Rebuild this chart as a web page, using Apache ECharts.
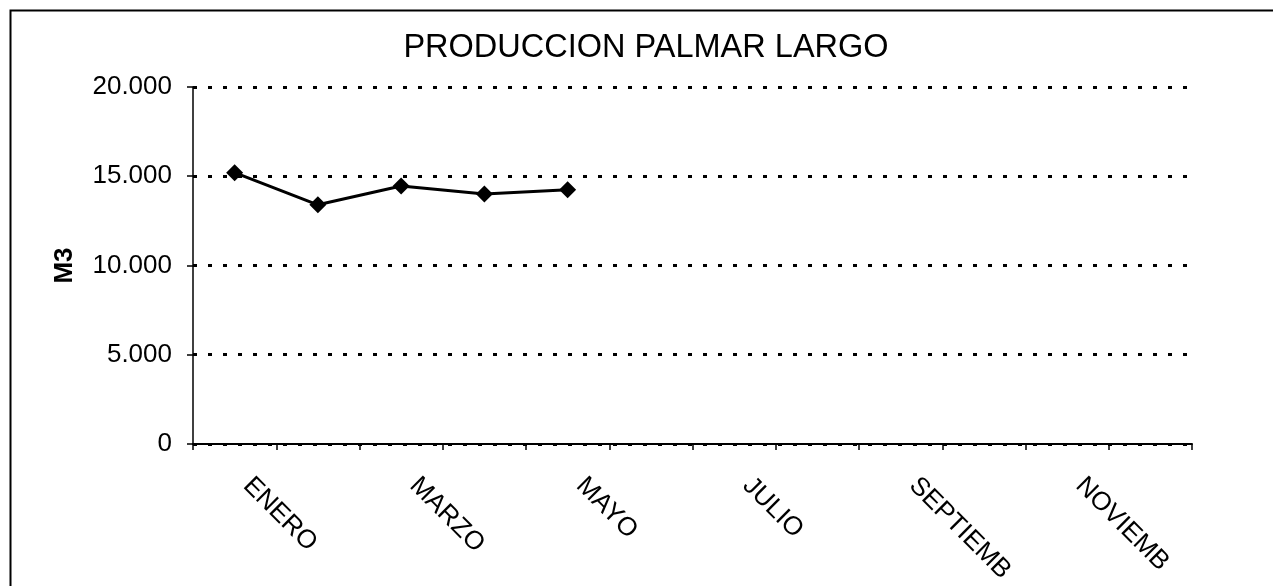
<!DOCTYPE html>
<html>
<head>
<meta charset="utf-8">
<script src="https://cdn.jsdelivr.net/npm/echarts@6/dist/echarts.min.js"></script>
<style>
html,body{margin:0;padding:0;background:#fff;}
#c{width:1273px;height:586px;}
</style>
</head>
<body>
<div id="c"></div>
<script>
var titleText = 'PRODUCCION PALMAR LARGO';
var yAxisName = 'M3';
var categories = ['ENERO','FEBRERO','MARZO','ABRIL','MAYO','JUNIO','JULIO','AGOSTO','SEPTIEMB','OCTUBRE','NOVIEMB','DICIEMB'];
var production = [15200, 13400, 14450, 14000, 14250, null, null, null, null, null, null, null];
var yMin = 0, yMax = 20000, yStep = 5000;

function fmt(v){
  return String(v).replace(/\B(?=(\d{3})+(?!\d))/g, '.');
}

var chart = echarts.init(document.getElementById('c'), null, {renderer:'canvas'});
var FONT = '"Liberation Sans", Arial, sans-serif';
chart.setOption({
  backgroundColor:'#ffffff',
  animation:false,
  graphic:[
    {type:'polyline', shape:{points:[[10.5,600],[10.5,10.5],[1290,10.5]]}, style:{stroke:'#000', lineWidth:2, fill:null}, silent:true},
    {type:'text', x:646, y:48, style:{text:titleText, font:'32.5px ' + FONT, fill:'#000', textAlign:'center', textVerticalAlign:'middle'}}
  ],
  grid:{left:193, right:81, top:87, bottom:136, containLabel:false},
  xAxis:{
    type:'category',
    data:categories,
    boundaryGap:true,
    axisLine:{show:true, lineStyle:{color:'#000', width:2}},
    axisTick:{show:true, alignWithLabel:false, interval:0, length:6, lineStyle:{color:'#000', width:1.5}},
    axisLabel:{interval:1, rotate:-45, margin:25, padding:[0,0,0,18], color:'#000', fontSize:26, fontFamily:FONT},
    splitLine:{show:false}
  },
  yAxis:{
    type:'value',
    min:yMin, max:yMax, interval:yStep,
    name:yAxisName,
    nameLocation:'middle',
    nameGap:115,
    nameRotate:90,
    nameTextStyle:{color:'#000', fontSize:26, fontWeight:'bold', fontFamily:FONT},
    axisLine:{show:true, lineStyle:{color:'#000', width:1.5}},
    axisTick:{show:true, length:6, lineStyle:{color:'#000', width:1.5}},
    axisLabel:{margin:21, color:'#000', fontSize:26, fontFamily:FONT, formatter:function(v){return fmt(v);}},
    splitLine:{show:true, lineStyle:{color:'#000', width:3, type:[4,11]}}
  },
  series:[{
    type:'line',
    data:production,
    connectNulls:false,
    symbol:'diamond',
    symbolSize:17,
    itemStyle:{color:'#000'},
    lineStyle:{color:'#000', width:3}
  }]
});
</script>
</body>
</html>
